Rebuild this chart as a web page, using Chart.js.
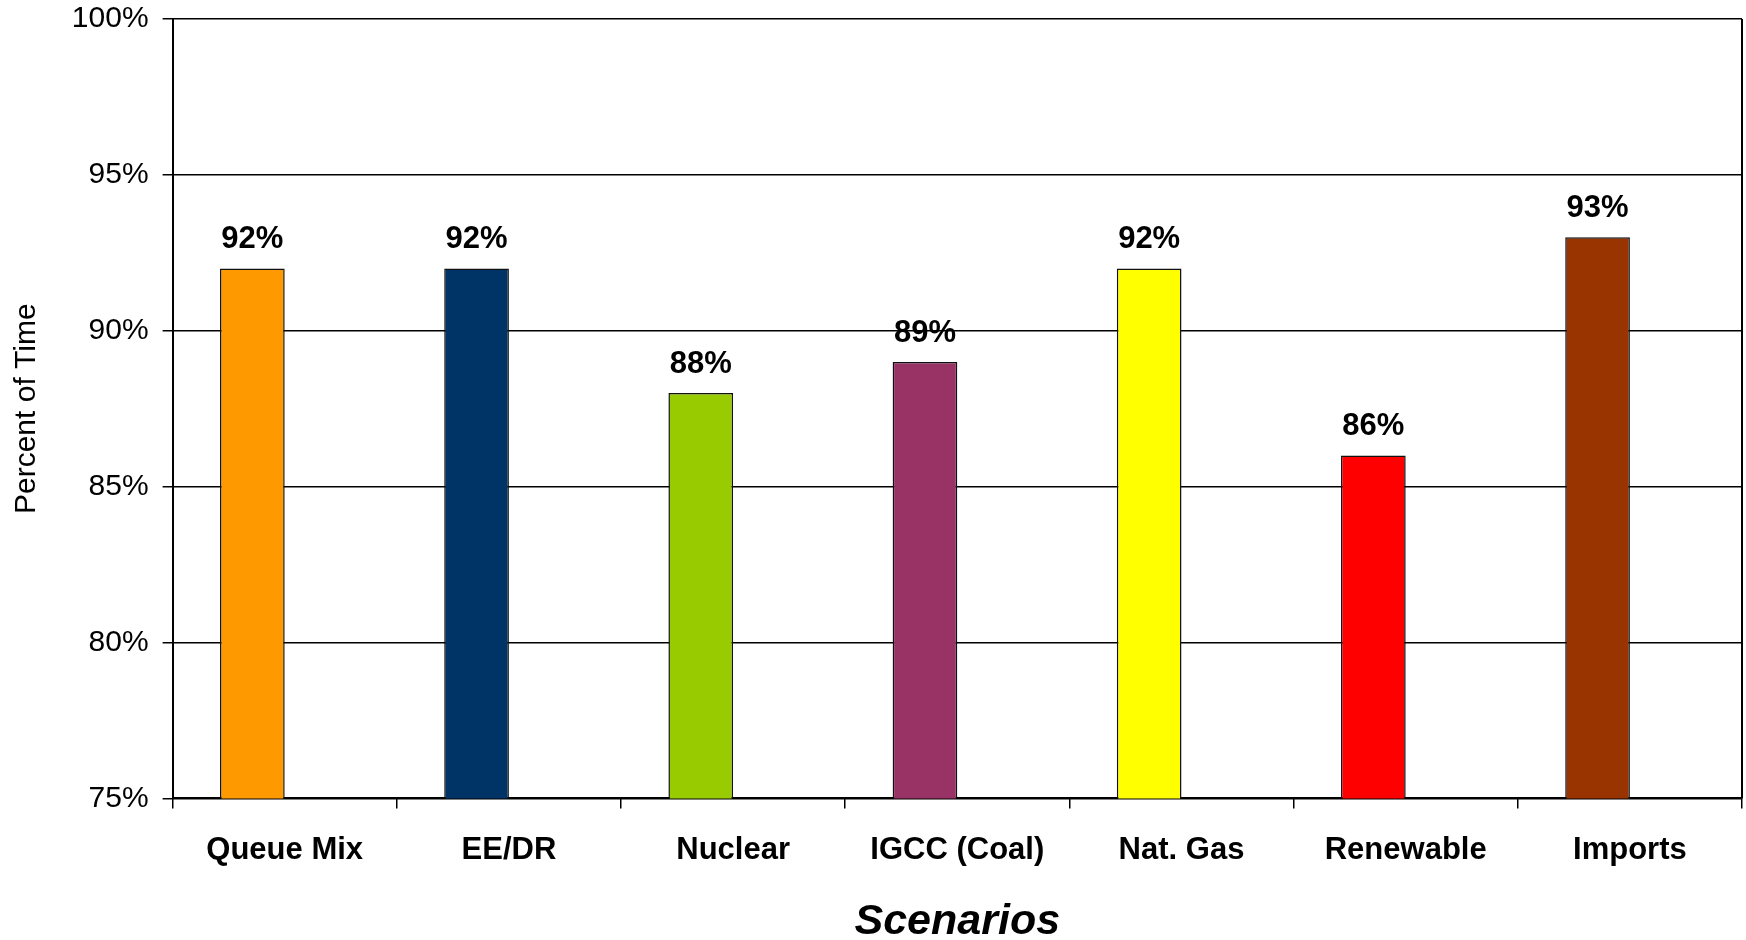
<!DOCTYPE html>
<html>
<head>
<meta charset="utf-8">
<title>Percent of Time by Scenario</title>
<script src="https://cdn.jsdelivr.net/npm/chart.js@4"></script>
<style>
  html, body { margin: 0; padding: 0; background: #ffffff; }
  #wrap { width: 1746px; height: 940px; position: relative; }
</style>
</head>
<body>
<div id="wrap"><canvas id="chart"></canvas></div>
<script>
// Scenario categories and their share of time (%)
const scenarios = ['Queue Mix', 'EE/DR', 'Nuclear', 'IGCC (Coal)', 'Nat. Gas', 'Renewable', 'Imports'];
const percentOfTime = [92, 92, 88, 89, 92, 86, 93];
const barColors = ['#FF9900', '#003366', '#99CC00', '#993366', '#FFFF00', '#FF0000', '#993300'];
// Empty companion series: keeps each bar in the left half of its category slot
const companion = [null, null, null, null, null, null, null];
// Value axis tick values
const yTicks = [75, 80, 85, 90, 95, 100];

const FONT = "'Liberation Sans', Arial, Helvetica, sans-serif";

// Percentage labels above each bar
const valueLabels = {
  id: 'valueLabels',
  afterDatasetsDraw(chart) {
    const ctx = chart.ctx;
    const meta = chart.getDatasetMeta(0);
    ctx.save();
    ctx.font = 'bold 31px ' + FONT;
    ctx.fillStyle = '#000000';
    ctx.textAlign = 'center';
    ctx.textBaseline = 'alphabetic';
    meta.data.forEach((bar, i) => {
      ctx.fillText(percentOfTime[i] + '%', bar.x, bar.y - 20);
    });
    ctx.restore();
  }
};

// Right-hand frame line of the plot area
const plotFrame = {
  id: 'plotFrame',
  afterDraw(chart) {
    const { ctx, chartArea } = chart;
    ctx.save();
    ctx.strokeStyle = '#000000';
    ctx.lineWidth = 2;
    ctx.beginPath();
    ctx.moveTo(chartArea.right, chartArea.top);
    ctx.lineTo(chartArea.right, chartArea.bottom);
    ctx.stroke();
    ctx.restore();
  }
};

new Chart(document.getElementById('chart'), {
  type: 'bar',
  data: {
    labels: scenarios,
    datasets: [
      {
        label: 'Percent of Time',
        data: percentOfTime,
        backgroundColor: barColors,
        borderColor: '#111111',
        borderWidth: 1.5,
        categoryPercentage: 0.577,
        barPercentage: 1.0
      },
      {
        label: '',
        data: companion,
        backgroundColor: 'rgba(0,0,0,0)',
        borderWidth: 0,
        categoryPercentage: 0.577,
        barPercentage: 1.0
      }
    ]
  },
  options: {
    responsive: true,
    maintainAspectRatio: false,
    animation: false,
    devicePixelRatio: 1,
    layout: { padding: { top: 19, right: 4, bottom: 0, left: 0 } },
    plugins: {
      legend: { display: false },
      tooltip: { enabled: false },
      title: { display: false }
    },
    scales: {
      x: {
        offset: true,
        grid: {
          display: true,
          offset: true,
          drawOnChartArea: false,
          drawTicks: true,
          tickLength: 10,
          color: '#000000',
          lineWidth: 1.5
        },
        border: { display: true, color: '#000000', width: 2 },
        ticks: {
          color: '#000000',
          padding: 23,
          maxRotation: 0,
          autoSkip: false,
          font: { family: FONT, size: 31, weight: 'bold' }
        },
        title: {
          display: true,
          text: 'Scenarios',
          color: '#000000',
          padding: { top: 0, bottom: 0 },
          font: { family: FONT, size: 43, weight: 'bold', style: 'italic', lineHeight: 0.85 }
        },
        afterFit(scale) {
          scale.height = 141.6;
          scale.paddingLeft = 0;
          scale.paddingRight = 0;
        }
      },
      y: {
        min: yTicks[0],
        max: yTicks[yTicks.length - 1],
        afterBuildTicks(scale) { scale.ticks = yTicks.map(v => ({ value: v })); },
        grid: {
          display: true,
          drawOnChartArea: true,
          drawTicks: true,
          tickLength: 10,
          color: '#000000',
          lineWidth: 1.5
        },
        border: { display: true, color: '#000000', width: 2 },
        ticks: {
          color: '#000000',
          padding: 14,
          font: { family: FONT, size: 30 },
          callback: (v) => v + '%'
        },
        title: {
          display: true,
          text: 'Percent of Time',
          color: '#000000',
          padding: { top: 10, bottom: 0 },
          font: { family: FONT, size: 30, lineHeight: 1.1 }
        },
        afterFit(scale) {
          scale.width = 172.6;
          scale.paddingTop = 0;
          scale.paddingBottom = 0;
        }
      }
    }
  },
  plugins: [valueLabels, plotFrame]
});
</script>
</body>
</html>
